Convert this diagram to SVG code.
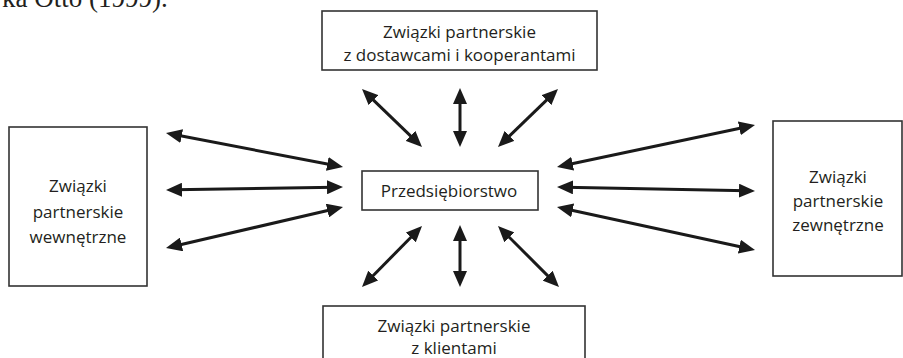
<svg xmlns="http://www.w3.org/2000/svg" width="903" height="358" viewBox="0 0 903 358">
<defs>
<style>
.box{fill:#fff;stroke:#333;stroke-width:1.6}
.lbl{font-family:"Open Sans","DejaVu Sans",sans-serif;font-size:17px;fill:#231f20;text-anchor:middle}
.arr{stroke:#1a1a1a;stroke-width:3;fill:none;marker-start:url(#ah);marker-end:url(#ah)}
.cap{font-family:"Liberation Serif","Times New Roman",serif;font-size:27px;fill:#231f20}
</style>
<marker id="ah" markerUnits="userSpaceOnUse" markerWidth="16" markerHeight="14" refX="8" refY="7" orient="auto-start-reverse" viewBox="0 0 16 14">
<path d="M0,0 L16,7 L0,14 z" fill="#1a1a1a"/>
</marker>
</defs>
<rect width="903" height="358" fill="#fff"/>
<text class="cap" x="2" y="7">ka Otto (1999).</text>
<g id="node-top">
<rect class="box" x="322" y="11" width="275" height="59"/>
<text class="lbl" x="459.5" y="37.5">Związki partnerskie</text>
<text class="lbl" x="459.5" y="61">z dostawcami i kooperantami</text>
</g>
<g id="node-center">
<rect class="box" x="362" y="171" width="176" height="39"/>
<text class="lbl" x="449" y="197">Przedsiębiorstwo</text>
</g>
<g id="node-left">
<rect class="box" x="9" y="127" width="138" height="159"/>
<text class="lbl" x="78" y="191.5">Związki</text>
<text class="lbl" x="78" y="217.5">partnerskie</text>
<text class="lbl" x="78" y="243">wewnętrzne</text>
</g>
<g id="node-right">
<rect class="box" x="773" y="121" width="129" height="155"/>
<text class="lbl" x="838" y="183">Związki</text>
<text class="lbl" x="838" y="207">partnerskie</text>
<text class="lbl" x="838" y="231">zewnętrzne</text>
</g>
<g id="node-bottom">
<rect class="box" x="323" y="306" width="262" height="70"/>
<text class="lbl" x="454" y="332">Związki partnerskie</text>
<text class="lbl" x="454" y="353.5">z klientami</text>
</g>
<g id="connectors">
<line class="arr" x1="367.75" y1="94.56" x2="416.25" y2="141.44"/>
<line class="arr" x1="460" y1="96" x2="460" y2="139"/>
<line class="arr" x1="552.25" y1="94.56" x2="503.75" y2="141.44"/>
<line class="arr" x1="173.86" y1="134.51" x2="335.14" y2="165.49"/>
<line class="arr" x1="174" y1="189.86" x2="335" y2="187.14"/>
<line class="arr" x1="173.79" y1="246.19" x2="335.21" y2="208.81"/>
<line class="arr" x1="564.83" y1="165.34" x2="747.17" y2="126.66"/>
<line class="arr" x1="565" y1="187.16" x2="747" y2="190.84"/>
<line class="arr" x1="564.82" y1="208.7" x2="747.18" y2="248.3"/>
<line class="arr" x1="416.39" y1="231.7" x2="367.61" y2="281.3"/>
<line class="arr" x1="460" y1="233" x2="460" y2="279"/>
<line class="arr" x1="503.66" y1="231.66" x2="553.34" y2="281.34"/>
</g>
</svg>
